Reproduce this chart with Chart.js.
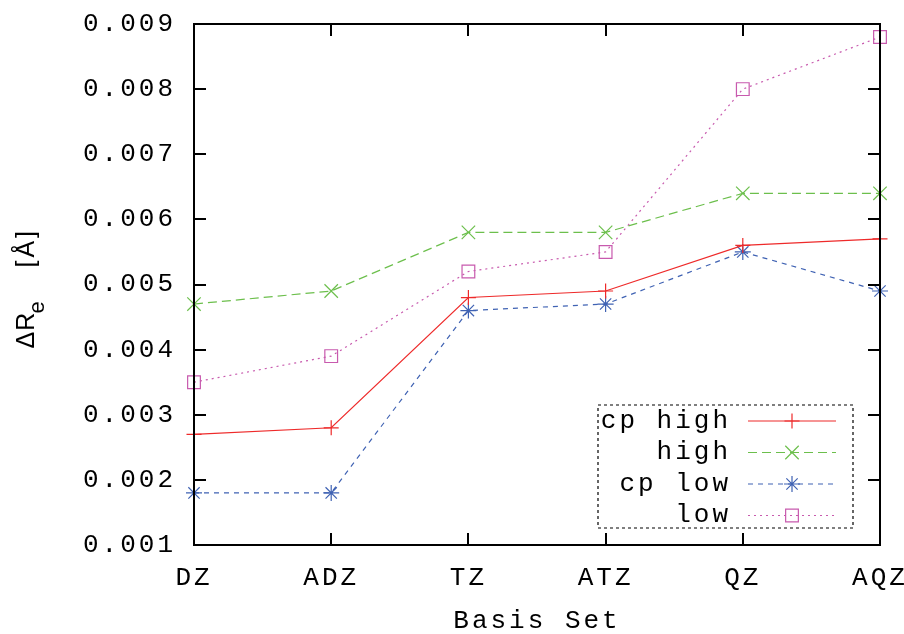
<!DOCTYPE html>
<html>
<head>
<meta charset="utf-8">
<script src="https://cdn.jsdelivr.net/npm/chart.js@4/dist/chart.umd.min.js"></script>
<style>
  html, body { margin: 0; padding: 0; background: #fff; }
  #wrap { width: 904px; height: 634px; }
</style>
</head>
<body>
<div id="wrap"><canvas id="chart" width="904" height="634"></canvas></div>
<script>
// data
const categories = ["DZ", "ADZ", "TZ", "ATZ", "QZ", "AQZ"];
const cpHigh = [0.0027, 0.0028, 0.0048, 0.0049, 0.0056, 0.0057];
const high = [0.0047, 0.0049, 0.0058, 0.0058, 0.0064, 0.0064];
const cpLow = [0.0018, 0.0018, 0.0046, 0.0047, 0.0055, 0.0049];
const low = [0.0035, 0.0039, 0.0052, 0.0055, 0.0080, 0.0088];
const yTicks = [0.001, 0.002, 0.003, 0.004, 0.005, 0.006, 0.007, 0.008, 0.009];

const FONT = "'Liberation Mono', 'DejaVu Sans Mono', monospace";
const SANS = "'Liberation Sans', 'DejaVu Sans', sans-serif";
const SIZE = 26;
const SPACING = "3px";

// the reference font is spread wider than Liberation Mono
const spacingPlugin = {
  id: "spacing",
  beforeUpdate(chart) { chart.ctx.letterSpacing = SPACING; },
  beforeLayout(chart) { chart.ctx.letterSpacing = SPACING; },
  beforeDraw(chart) { chart.ctx.letterSpacing = SPACING; }
};

// gnuplot style frame with inward ticks on all four sides
const framePlugin = {
  id: "frame",
  afterDatasetsDraw(chart) {
    const { ctx, chartArea: a, scales } = chart;
    const len = 12;
    ctx.save();
    ctx.strokeStyle = "#000";
    ctx.lineWidth = 2;
    ctx.setLineDash([]);
    ctx.beginPath();
    scales.y.ticks.forEach((t, i) => {
      const y = Math.round(scales.y.getPixelForTick(i));
      ctx.moveTo(a.left, y); ctx.lineTo(a.left + len, y);
      ctx.moveTo(a.right, y); ctx.lineTo(a.right - len, y);
    });
    scales.x.ticks.forEach((t, i) => {
      const x = Math.round(scales.x.getPixelForTick(i));
      ctx.moveTo(x, a.bottom); ctx.lineTo(x, a.bottom - len);
      ctx.moveTo(x, a.top); ctx.lineTo(x, a.top + len);
    });
    ctx.stroke();
    ctx.strokeRect(a.left, a.top, a.right - a.left, a.bottom - a.top);
    ctx.restore();
  }
};

// y title with subscript, drawn by hand
const yTitlePlugin = {
  id: "yTitle",
  afterDraw(chart) {
    const { ctx, chartArea: a } = chart;
    ctx.save();
    ctx.letterSpacing = "1px";
    ctx.translate(27, (a.top + a.bottom) / 2 + 3);
    ctx.rotate(-Math.PI / 2);
    ctx.fillStyle = "#000";
    ctx.textBaseline = "middle";
    ctx.textAlign = "left";
    ctx.font = "25px " + SANS;
    ctx.fillText("\u0394R", -61, 0);
    ctx.font = "22px " + SANS;
    ctx.fillText("e", -26, 11);
    ctx.font = "25px " + SANS;
    ctx.letterSpacing = "3px";
    ctx.fillText("[\u00c5]", 20, 0);
    ctx.restore();
  }
};

// key box in the lower right corner
const keyPlugin = {
  id: "key",
  afterDraw(chart) {
    const { ctx, chartArea: a } = chart;
    const boxR = a.right - 27, boxB = a.bottom - 17;
    const boxL = boxR - 255, boxT = boxB - 123;
    ctx.save();
    ctx.strokeStyle = "#000";
    ctx.lineWidth = 1.2;
    ctx.setLineDash([3, 3]);
    ctx.strokeRect(boxL, boxT, boxR - boxL, boxB - boxT);
    ctx.font = SIZE + "px " + FONT;
    ctx.letterSpacing = SPACING;
    ctx.textAlign = "right";
    ctx.textBaseline = "middle";
    chart.data.datasets.forEach((ds, i) => {
      const y = boxT + 16 + i * 31.5;
      ctx.fillStyle = "#000";
      ctx.setLineDash([]);
      ctx.fillText(ds.label, boxL + 133, y);
      ctx.strokeStyle = ds.borderColor;
      ctx.lineWidth = ds.borderWidth;
      ctx.setLineDash(ds.borderDash || []);
      ctx.beginPath();
      ctx.moveTo(boxL + 150, y);
      ctx.lineTo(boxL + 238, y);
      ctx.stroke();
      ctx.setLineDash([]);
      ctx.fillStyle = "rgba(0,0,0,0)";
      Chart.helpers.drawPoint(ctx, {
        pointStyle: ds.pointStyle,
        radius: ds.pointRadius,
        rotation: 0,
        borderWidth: ds.pointBorderWidth
      }, boxL + 194, y);
    });
    ctx.restore();
  }
};

function series(label, data, color, dash, style, radius) {
  return {
    label: label,
    data: data,
    borderColor: color,
    backgroundColor: color,
    borderWidth: 1.2,
    borderDash: dash,
    pointStyle: style,
    pointRadius: radius,
    pointHoverRadius: radius,
    pointBorderColor: color,
    pointBackgroundColor: "rgba(0,0,0,0)",
    pointBorderWidth: 1.2,
    tension: 0,
    clip: false
  };
}

const ctx = document.getElementById("chart").getContext("2d");
new Chart(ctx, {
  type: "line",
  data: {
    labels: categories,
    datasets: [
      series("cp high", cpHigh, "#ee2a2a", [], "cross", 7.5),
      series("high", high, "#6cbf4c", [9, 5], "crossRot", 9.5),
      series("cp low", cpLow, "#3f62b3", [5, 5], "star", 8),
      series("low", low, "#c85aae", [2, 4], "rect", 9)
    ]
  },
  options: {
    responsive: false,
    animation: false,
    events: [],
    layout: { padding: { left: 75, right: 24, top: 24, bottom: 0 } },
    plugins: {
      legend: { display: false },
      tooltip: { enabled: false }
    },
    scales: {
      x: {
        offset: false,
        grid: { display: false, drawTicks: false },
        border: { display: false },
        afterFit: (scale) => {
          scale.height = 89;
          scale.paddingLeft = 0;
          scale.paddingRight = 0;
        },
        ticks: {
          color: "#000",
          font: { family: FONT, size: SIZE },
          padding: 18,
          maxRotation: 0,
          autoSkip: false
        },
        title: {
          display: true,
          text: "Basis Set",
          color: "#000",
          font: { family: FONT, size: SIZE, lineHeight: 1.0 },
          padding: { top: 0, bottom: 0 }
        }
      },
      y: {
        min: 0.001,
        max: 0.009,
        afterBuildTicks: (scale) => {
          scale.ticks = yTicks.map((v) => ({ value: v }));
        },
        afterFit: (scale) => {
          scale.width = 119;
          scale.paddingTop = 0;
          scale.paddingBottom = 0;
        },
        grid: { display: false, drawTicks: false },
        border: { display: false },
        ticks: {
          color: "#000",
          font: { family: FONT, size: SIZE },
          padding: 18,
          callback: (v) => Number(v).toFixed(3)
        }
      }
    }
  },
  plugins: [spacingPlugin, framePlugin, yTitlePlugin, keyPlugin]
});
</script>
</body>
</html>
